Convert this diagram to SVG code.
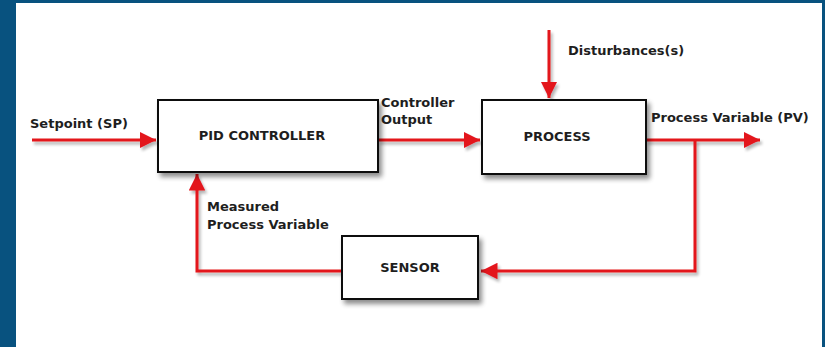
<svg xmlns="http://www.w3.org/2000/svg" width="825" height="347" viewBox="0 0 825 347">
<defs>
<style>
.lbl{font-family:"DejaVu Sans",Verdana,sans-serif;font-weight:bold;font-size:13px;fill:#1e1e1e}
.box{fill:#fff;stroke:#111;stroke-width:2;filter:url(#sh)}
.ln{fill:none;stroke:#e3141b;stroke-width:3;filter:url(#lsh)}
</style>
<filter id="sh" x="-10%" y="-10%" width="130%" height="140%">
<feGaussianBlur in="SourceAlpha" stdDeviation="2.5"/>
<feOffset dx="3" dy="4" result="b"/>
<feComponentTransfer><feFuncA type="linear" slope="0.45"/></feComponentTransfer>
<feMerge><feMergeNode/><feMergeNode in="SourceGraphic"/></feMerge>
</filter>
<filter id="lsh" filterUnits="userSpaceOnUse" x="0" y="0" width="825" height="347">
<feGaussianBlur in="SourceAlpha" stdDeviation="1.5"/>
<feOffset dx="2" dy="3" result="b"/>
<feComponentTransfer><feFuncA type="linear" slope="0.3"/></feComponentTransfer>
<feMerge><feMergeNode/><feMergeNode in="SourceGraphic"/></feMerge>
</filter>
<marker id="ah" viewBox="0 0 10 10" refX="10" refY="5" markerWidth="5.5" markerHeight="5.5" markerUnits="strokeWidth" orient="auto">
<path d="M0,0 L10,5 L0,10 Z" fill="#e3141b"/>
</marker>
</defs>
<rect x="0" y="0" width="825" height="347" fill="#08527f"/>
<rect x="16" y="3" width="806" height="344" fill="#fff"/>
<g id="connectors">
<path class="ln" d="M32,140 H156" marker-end="url(#ah)"/>
<path class="ln" d="M378,140 H480" marker-end="url(#ah)"/>
<path class="ln" d="M549,30 V98" marker-end="url(#ah)"/>
<path class="ln" d="M646,140 H760" marker-end="url(#ah)"/>
<path class="ln" d="M695,140 V271 H481" marker-end="url(#ah)"/>
<path class="ln" d="M342,271 H197 V174" marker-end="url(#ah)"/>
</g>
<g id="pid">
<rect class="box" x="158" y="100" width="220" height="72"/>
<text class="lbl" x="262" y="140" text-anchor="middle">PID CONTROLLER</text>
</g>
<g id="process">
<rect class="box" x="482" y="100" width="164" height="74"/>
<text class="lbl" x="557" y="141" text-anchor="middle">PROCESS</text>
</g>
<g id="sensor">
<rect class="box" x="342" y="236" width="136" height="63"/>
<text class="lbl" x="410" y="272" text-anchor="middle">SENSOR</text>
</g>
<g id="labels">
<text class="lbl" x="30" y="128">Setpoint (SP)</text>
<text class="lbl" x="381" y="107">Controller</text>
<text class="lbl" x="381" y="124">Output</text>
<text class="lbl" x="568" y="55">Disturbances(s)</text>
<text class="lbl" x="651" y="122">Process Variable (PV)</text>
<text class="lbl" x="207" y="211">Measured</text>
<text class="lbl" x="207" y="229">Process Variable</text>
</g>
</svg>
